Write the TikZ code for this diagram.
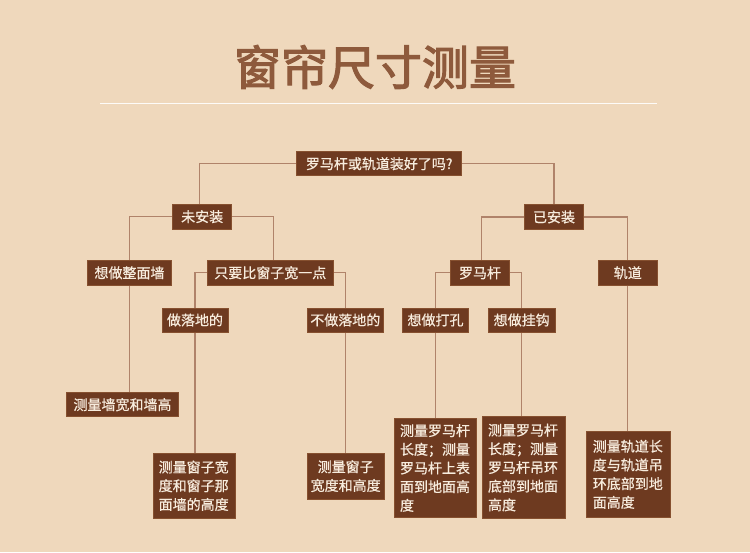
\documentclass[tikz,border=0pt]{standalone}
\usepackage{fontspec}
\usetikzlibrary{backgrounds}
\newfontfamily\cjk{Noto Sans CJK SC}[FakeBold=0.7]
\newfontfamily\cjkbold{Noto Sans CJK SC}[FakeBold=2.5]
\definecolor{bg}{HTML}{EFD8BC}
\definecolor{boxfill}{HTML}{6E3A20}
\definecolor{boxline}{HTML}{86502F}
\definecolor{conn}{HTML}{B0836A}
\definecolor{titlec}{HTML}{8E5A3C}
\definecolor{txt}{HTML}{F7ECDD}
\tikzset{
  box/.style={fill=boxfill, draw=boxline, line width=0.8pt, text=txt, inner sep=0pt,
    font=\cjk\fontsize{14pt}{18.7pt}\selectfont},
  mbox/.style={box, align=left, text width=71pt},
  conn/.style={draw=conn, line width=1.3pt},
}
\begin{document}
\begin{tikzpicture}[x=1pt,y=-1pt]
\useasboundingbox (0,0) rectangle (750,552);
% title
\node[text=titlec, font=\cjkbold\fontsize{47pt}{52pt}\selectfont] (title) at (375,67) {窗帘尺寸测量};
\draw[white, line width=1.3pt, opacity=0.9] (100,103.5) coordinate (tl) -- (657,103.5) coordinate (tr);
% nodes
\node[box, minimum width=165pt, minimum height=24pt] (root) at (379.2,163.7) {罗马杆或轨道装好了吗?};
\node[box, minimum width=59pt, minimum height=25pt] (wei) at (202.2,216.7) {未安装};
\node[box, minimum width=59pt, minimum height=25pt] (yi) at (554,217) {已安装};
\node[box, minimum width=83.4pt, minimum height=24.3pt] (zheng) at (129.5,272.8) {想做整面墙};
\node[box, minimum width=126pt, minimum height=24.3pt] (zhiyao) at (270.3,272.8) {只要比窗子宽一点};
\node[box, minimum width=66pt, minimum height=24pt] (luodi) at (195,320) {做落地的};
\node[box, minimum width=75.3pt, minimum height=24pt] (buluodi) at (345.3,320) {不做落地的};
\node[box, minimum width=58.6pt, minimum height=24.3pt] (luoma) at (480,272.8) {罗马杆};
\node[box, minimum width=59pt, minimum height=24.3pt] (guidao) at (627.8,272.8) {轨道};
\node[box, minimum width=66.6pt, minimum height=24pt] (dakong) at (435.5,320) {想做打孔};
\node[box, minimum width=66.7pt, minimum height=24pt] (guagou) at (521.7,320) {想做挂钩};
\node[box, minimum width=111.6pt, minimum height=24pt] (qiang) at (122.5,404.7) {测量墙宽和墙高};
\node[mbox, minimum width=81.7pt, minimum height=64.7pt] (m1) at (194.2,485.7) {测量窗子宽\\度和窗子那\\面墙的高度};
\node[box, align=center, minimum width=76.7pt, minimum height=45.7pt] (m2) at (345.7,476.2) {测量窗子\\宽度和高度};
\node[mbox, minimum width=82.4pt, minimum height=99.4pt] (m3) at (435.5,468) {测量罗马杆\\长度；测量\\罗马杆上表\\面到地面高\\度};
\node[mbox, minimum width=83pt, minimum height=101.6pt] (m4) at (523.5,467.5) {测量罗马杆\\长度；测量\\罗马杆吊环\\底部到地面\\高度};
\node[mbox, minimum width=83.3pt, minimum height=85.3pt] (m5) at (628.3,474.3) {测量轨道长\\度与轨道吊\\环底部到地\\面高度};
% connectors behind boxes
\begin{scope}[on background layer]
\fill[bg] (0,0) rectangle (750,552);
\draw[conn] (root.west) -| ([xshift=-3pt]wei.north);
\draw[conn] (root.east) -| (yi.north);
\draw[conn] (wei.west) -| (zheng.north);
\draw[conn] (wei.east) -| ([xshift=3pt]zhiyao.north);
\draw[conn] (zhiyao.west) -| (luodi.north);
\draw[conn] (zhiyao.east) -| (buluodi.north);
\draw[conn] (zheng.south) -- (zheng.south |- qiang.north);
\draw[conn] (luodi.south) -- (luodi.south |- m1.north);
\draw[conn] (buluodi.south) -- (buluodi.south |- m2.north);
\draw[conn] (yi.west) -| ([xshift=1.5pt]luoma.north);
\draw[conn] (yi.east) -| (guidao.north);
\draw[conn] (luoma.west) -| (dakong.north);
\draw[conn] (luoma.east) -| (guagou.north);
\draw[conn] (dakong.south) -- (dakong.south |- m3.north);
\draw[conn] (guagou.south) -- (guagou.south |- m4.north);
\draw[conn] (guidao.south) -- (guidao.south |- m5.north);
\end{scope}
\end{tikzpicture}
\end{document}
